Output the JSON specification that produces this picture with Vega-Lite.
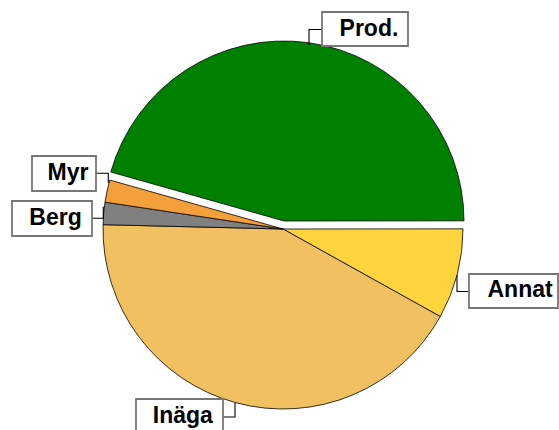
{
  "$schema": "https://vega.github.io/schema/vega-lite/v6.json",
  "width": 552,
  "height": 402,
  "padding": {"left": 7, "top": 28, "right": 0, "bottom": 0},
  "autosize": {"type": "none"},
  "background": "white",
  "config": {"view": {"stroke": null}},
  "data": {
    "values": [
      {"cat": "Prod.", "value": 45.6},
      {"cat": "Annat", "value": 8.1},
      {"cat": "Inäga", "value": 42.3},
      {"cat": "Berg", "value": 2.0},
      {"cat": "Myr", "value": 2.0}
    ]
  },
  "transform": [{"window": [{"op": "row_number", "as": "idx"}]}],
  "layer": [
    {
      "encoding": {
        "theta": {"field": "value", "type": "quantitative", "stack": true, "scale": {"type": "linear", "zero": true, "range": [4.988, 11.271]}},
        "order": {"field": "idx", "type": "quantitative"},
        "color": {"field": "cat", "type": "nominal", "legend": null,
          "scale": {"domain": ["Prod.", "Annat", "Inäga", "Berg", "Myr"], "range": ["#008000", "#FFD43C", "#F1C060", "#808080", "#F4A03A"]}}
      },
      "layer": [
        {
          "mark": {"type": "arc", "radius": 180, "stroke": "black", "strokeWidth": 0.8},
          "encoding": {"opacity": {"condition": {"test": "datum.cat === 'Prod.'", "value": 0}, "value": 1}}
        },
        {
          "mark": {"type": "arc", "radius": 180, "stroke": "black", "strokeWidth": 0.8, "xOffset": 1, "yOffset": -8},
          "encoding": {"opacity": {"condition": {"test": "datum.cat === 'Prod.'", "value": 1}, "value": 0}}
        }
      ]
    },
    {
      "data": {"values": [{"part": "connectors"}]},
      "mark": {"type": "point", "filled": false, "opacity": 1, "stroke": "black", "strokeWidth": 1.1, "size": 4,
        "shape": "M26,-184V-199.5H39 M174,46V62.5H186 M-48,173.5V188H-60 M-174.7,-46V-55.7H-187 M-179.7,-22.3V-10.7H-191"}
    },
    {
      "data": {"values": [{"part": "boxes"}]},
      "mark": {"type": "point", "filled": true, "opacity": 1, "fill": "white", "fillOpacity": 1, "stroke": "#777777", "strokeWidth": 1.8, "size": 4,
        "shape": "M39,-217H125V-183H39Z M186,45H275V79H186Z M-147,170H-60V204H-147Z M-251,-73H-187V-38H-251Z M-271,-28H-191V7H-271Z"}
    },
    {
      "encoding": {
        "theta": {"field": "value", "type": "quantitative", "stack": true, "scale": {"type": "linear", "zero": true, "range": [4.988, 11.271]}},
        "order": {"field": "idx", "type": "quantitative"}
      },
      "layer": [
        {
          "mark": {"type": "text", "radius": 180, "dx": 61.3, "dy": -14.7, "font": "Liberation Sans", "fontWeight": "bold", "fontSize": 23, "align": "center", "baseline": "alphabetic", "fill": "black"},
          "encoding": {"text": {"condition": {"test": "datum.cat === 'Prod.'", "field": "cat"}, "value": ""}}
        },
        {
          "mark": {"type": "text", "radius": 180, "dx": 62.8, "dy": 23.3, "font": "Liberation Sans", "fontWeight": "bold", "fontSize": 23, "align": "center", "baseline": "alphabetic", "fill": "black"},
          "encoding": {"text": {"condition": {"test": "datum.cat === 'Annat'", "field": "cat"}, "value": ""}}
        },
        {
          "mark": {"type": "text", "radius": 180, "dx": -52.8, "dy": 20.1, "font": "Liberation Sans", "fontWeight": "bold", "fontSize": 23, "align": "center", "baseline": "alphabetic", "fill": "black"},
          "encoding": {"text": {"condition": {"test": "datum.cat === 'Inäga'", "field": "cat"}, "value": ""}}
        },
        {
          "mark": {"type": "text", "radius": 180, "dx": -48.2, "dy": 12, "font": "Liberation Sans", "fontWeight": "bold", "fontSize": 23, "align": "center", "baseline": "alphabetic", "fill": "black"},
          "encoding": {"text": {"condition": {"test": "datum.cat === 'Berg'", "field": "cat"}, "value": ""}}
        },
        {
          "mark": {"type": "text", "radius": 180, "dx": -39.1, "dy": -10.7, "font": "Liberation Sans", "fontWeight": "bold", "fontSize": 23, "align": "center", "baseline": "alphabetic", "fill": "black"},
          "encoding": {"text": {"condition": {"test": "datum.cat === 'Myr'", "field": "cat"}, "value": ""}}
        }
      ]
    }
  ]
}
